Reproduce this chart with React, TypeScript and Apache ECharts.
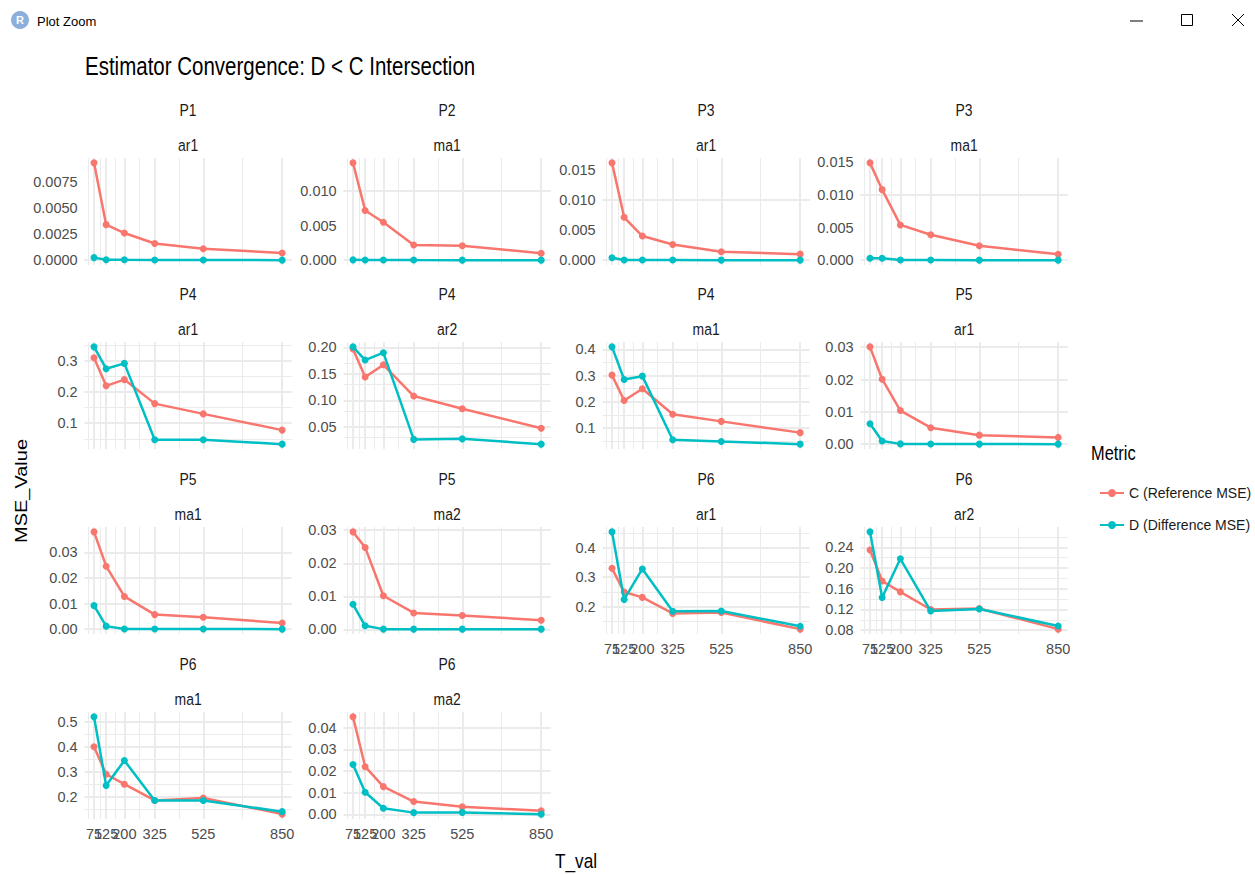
import React, { useEffect, useRef } from "react";
import * as echarts from "echarts";

// ---------- data ----------
const T_VALS = [75, 125, 200, 325, 525, 850];
const X_TICK_LABELS = ["75", "125", "200", "325", "525", "850"];

const PANEL_GROUPS = ["P1", "P2", "P3", "P3", "P4", "P4", "P4", "P5", "P5", "P5", "P6", "P6", "P6", "P6"];
const PANEL_PARAMS = ["ar1", "ma1", "ar1", "ma1", "ar1", "ar2", "ma1", "ar1", "ma1", "ma2", "ar1", "ar2", "ma1", "ma2"];

const SERIES_NAMES = ["C (Reference MSE)", "D (Difference MSE)"];

// C (Reference MSE)
const C_P1_AR1 = [0.0093, 0.0034, 0.0026, 0.0016, 0.0011, 0.0007];
const C_P2_MA1 = [0.0141, 0.0072, 0.0055, 0.0022, 0.0021, 0.001];
const C_P3_AR1 = [0.0161, 0.0071, 0.004, 0.0026, 0.0014, 0.001];
const C_P3_MA1 = [0.0149, 0.0108, 0.0054, 0.0039, 0.0022, 0.0009];
const C_P4_AR1 = [0.31, 0.22, 0.24, 0.163, 0.13, 0.078];
const C_P4_AR2 = [0.197, 0.144, 0.167, 0.108, 0.084, 0.047];
const C_P4_MA1 = [0.302, 0.205, 0.25, 0.152, 0.125, 0.082];
const C_P5_AR1 = [0.0301, 0.0201, 0.0104, 0.0051, 0.0028, 0.0021];
const C_P5_MA1 = [0.038, 0.0246, 0.0128, 0.0057, 0.0047, 0.0024];
const C_P5_MA2 = [0.0295, 0.0248, 0.0102, 0.005, 0.0042, 0.0028];
const C_P6_AR1 = [0.33, 0.25, 0.232, 0.178, 0.181, 0.125];
const C_P6_AR2 = [0.235, 0.175, 0.154, 0.12, 0.122, 0.082];
const C_P6_MA1 = [0.4, 0.29, 0.25, 0.185, 0.195, 0.13];
const C_P6_MA2 = [0.045, 0.022, 0.0128, 0.0059, 0.0035, 0.0017];

// D (Difference MSE)
const D_P1_AR1 = [0.00025, 0.00005, 0.00004, 0.00003, 0.00002, 0.00001];
const D_P2_MA1 = [0.00005, 0.00004, 0.00003, 0.00002, 0.00001, 0.00001];
const D_P3_AR1 = [0.0004, 0.00003, 0.00002, 0.00002, 0.00001, 0.00001];
const D_P3_MA1 = [0.0003, 0.0003, 0.00002, 0.00002, 0.00001, 0.00001];
const D_P4_AR1 = [0.345, 0.275, 0.292, 0.047, 0.047, 0.033];
const D_P4_AR2 = [0.201, 0.176, 0.19, 0.026, 0.027, 0.017];
const D_P4_MA1 = [0.41, 0.285, 0.298, 0.055, 0.048, 0.038];
const D_P5_AR1 = [0.0063, 0.001, 0.0001, 0.00005, 0.00003, 0.00002];
const D_P5_MA1 = [0.0092, 0.0012, 0.0001, 0.0001, 0.00005, 0.00003];
const D_P5_MA2 = [0.0076, 0.0011, 0.0001, 0.0001, 0.0001, 0.0001];
const D_P6_AR1 = [0.453, 0.225, 0.328, 0.185, 0.186, 0.135];
const D_P6_AR2 = [0.27, 0.143, 0.218, 0.117, 0.121, 0.088];
const D_P6_MA1 = [0.52, 0.245, 0.345, 0.185, 0.185, 0.14];
const D_P6_MA2 = [0.023, 0.0102, 0.0028, 0.0008, 0.0009, 0.0001];

// y tick labels per panel
const Y_P1_AR1 = ["0.0000", "0.0025", "0.0050", "0.0075"];
const Y_P2_MA1 = ["0.000", "0.005", "0.010"];
const Y_P3_AR1 = ["0.000", "0.005", "0.010", "0.015"];
const Y_P3_MA1 = ["0.000", "0.005", "0.010", "0.015"];
const Y_P4_AR1 = ["0.1", "0.2", "0.3"];
const Y_P4_AR2 = ["0.05", "0.10", "0.15", "0.20"];
const Y_P4_MA1 = ["0.1", "0.2", "0.3", "0.4"];
const Y_P5_AR1 = ["0.00", "0.01", "0.02", "0.03"];
const Y_P5_MA1 = ["0.00", "0.01", "0.02", "0.03"];
const Y_P5_MA2 = ["0.00", "0.01", "0.02", "0.03"];
const Y_P6_AR1 = ["0.2", "0.3", "0.4"];
const Y_P6_AR2 = ["0.08", "0.12", "0.16", "0.20", "0.24"];
const Y_P6_MA1 = ["0.2", "0.3", "0.4", "0.5"];
const Y_P6_MA2 = ["0.00", "0.01", "0.02", "0.03", "0.04"];

const C_VALUES = [C_P1_AR1, C_P2_MA1, C_P3_AR1, C_P3_MA1, C_P4_AR1, C_P4_AR2, C_P4_MA1, C_P5_AR1, C_P5_MA1, C_P5_MA2, C_P6_AR1, C_P6_AR2, C_P6_MA1, C_P6_MA2];
const D_VALUES = [D_P1_AR1, D_P2_MA1, D_P3_AR1, D_P3_MA1, D_P4_AR1, D_P4_AR2, D_P4_MA1, D_P5_AR1, D_P5_MA1, D_P5_MA2, D_P6_AR1, D_P6_AR2, D_P6_MA1, D_P6_MA2];
const Y_TICKS = [Y_P1_AR1, Y_P2_MA1, Y_P3_AR1, Y_P3_MA1, Y_P4_AR1, Y_P4_AR2, Y_P4_MA1, Y_P5_AR1, Y_P5_MA1, Y_P5_MA2, Y_P6_AR1, Y_P6_AR2, Y_P6_MA1, Y_P6_MA2];

// ---------- layout ----------
const COL_LEFT = [84.6, 343.6, 602.6, 860.6];
const ROW_TOP = [158, 342, 527, 712];
const PANEL_W = 207;
const PANEL_H = 107;
const NCOL = 4;

const COLOR_C = "#F8766D";
const COLOR_D = "#00BFC4";
const GRID_COLOR = "#EBEBEB";
const FONT = "'Liberation Sans', Arial, sans-serif";
const SQUEEZE = 0.82; // reference text is horizontally condensed
const TICK_FONT = 14.5;

function minorBreaks(breaks: number[], lo: number, hi: number): number[] {
  let b = breaks.slice();
  if (b.length < 2) return [];
  const d0 = b[1] - b[0];
  const d1 = b[b.length - 1] - b[b.length - 2];
  if (lo < b[0]) b = [b[0] - d0, ...b];
  if (hi > b[b.length - 1]) b = [...b, b[b.length - 1] + d1];
  const out: number[] = [];
  for (let i = 1; i < b.length; i++) {
    const m = (b[i] + b[i - 1]) / 2;
    if (m >= lo && m <= hi) out.push(m);
  }
  return out;
}

function squeezedText(x: number, y: number, text: string, size: number, align: string, fill: string) {
  return {
    type: "text",
    x,
    y,
    scaleX: SQUEEZE,
    style: { text, fill, font: `${size}px ${FONT}`, align, verticalAlign: "middle" },
  };
}

function buildOption() {
  const xMinData = Math.min(...T_VALS);
  const xMaxData = Math.max(...T_VALS);
  const xPad = (xMaxData - xMinData) * 0.05;
  const xLo = xMinData - xPad;
  const xHi = xMaxData + xPad;
  const xMinor = minorBreaks(T_VALS, xLo, xHi);
  // split tick labels over two axes so ECharts' first/last-label overlap check keeps them all
  const xSetA = T_VALS.filter((_, k) => k % 2 === 0);
  const xSetB = T_VALS.filter((_, k) => k % 2 === 1);
  const xFmt = (v: number) => {
    const k = T_VALS.indexOf(v);
    return k >= 0 ? X_TICK_LABELS[k] : "";
  };

  const grids: any[] = [];
  const xAxes: any[] = [];
  const extraX: any[] = [];
  const yAxes: any[] = [];
  const series: any[] = [];
  const graphics: any[] = [];

  const n = C_VALUES.length;
  const lastRowOfCol: number[] = [];
  for (let i = 0; i < n; i++) lastRowOfCol[i % NCOL] = Math.floor(i / NCOL);

  const xLabelStyle = {
    color: "#4D4D4D",
    fontSize: TICK_FONT,
    fontFamily: FONT,
    margin: 7,
    hideOverlap: false,
    formatter: xFmt,
  };

  for (let i = 0; i < n; i++) {
    const c = i % NCOL;
    const r = Math.floor(i / NCOL);
    const all = [...C_VALUES[i], ...D_VALUES[i]];
    const yMinD = Math.min(...all);
    const yMaxD = Math.max(...all);
    const yPad = (yMaxD - yMinD) * 0.05;
    const yLo = yMinD - yPad;
    const yHi = yMaxD + yPad;
    const yBreaks = Y_TICKS[i].map((s) => parseFloat(s));
    const yMinor = minorBreaks(yBreaks, yLo, yHi);

    grids.push({ left: COL_LEFT[c], top: ROW_TOP[r], width: PANEL_W, height: PANEL_H, containLabel: false });

    const showX = lastRowOfCol[c] === r;
    const baseX = {
      type: "value",
      gridIndex: i,
      min: xLo,
      max: xHi,
      position: "bottom",
      axisLine: { show: false },
      axisTick: { show: false },
      splitLine: { show: false },
    };
    xAxes.push({ ...baseX, axisLabel: { ...xLabelStyle, show: showX, customValues: xSetA } });
    if (showX) extraX.push({ ...baseX, axisLabel: { ...xLabelStyle, show: true, customValues: xSetB } });

    const labels = Y_TICKS[i];
    yAxes.push({
      type: "value",
      gridIndex: i,
      min: yLo,
      max: yHi,
      axisLine: { show: false },
      axisTick: { show: false },
      splitLine: { show: false },
      axisLabel: {
        customValues: yBreaks,
        formatter: (v: number) => {
          let best = 0;
          for (let k = 1; k < yBreaks.length; k++) {
            if (Math.abs(yBreaks[k] - v) < Math.abs(yBreaks[best] - v)) best = k;
          }
          return labels[best];
        },
        color: "#4D4D4D",
        fontSize: TICK_FONT,
        fontFamily: FONT,
        margin: 7,
      },
    });

    const gridLineData: any[] = [];
    yMinor.forEach((v) => gridLineData.push({ yAxis: v, lineStyle: { color: GRID_COLOR, width: 1, type: "solid" } }));
    xMinor.forEach((v) => gridLineData.push({ xAxis: v, lineStyle: { color: GRID_COLOR, width: 1, type: "solid" } }));
    yBreaks.forEach((v) => gridLineData.push({ yAxis: v, lineStyle: { color: GRID_COLOR, width: 2, type: "solid" } }));
    T_VALS.forEach((v) => gridLineData.push({ xAxis: v, lineStyle: { color: GRID_COLOR, width: 2, type: "solid" } }));

    series.push({
      type: "line",
      name: "grid" + i,
      xAxisIndex: i,
      yAxisIndex: i,
      data: T_VALS.map((t, j) => [t, C_VALUES[i][j]]),
      showSymbol: false,
      lineStyle: { opacity: 0 },
      silent: true,
      z: 0,
      markLine: {
        z: 0,
        silent: true,
        symbol: ["none", "none"],
        label: { show: false },
        emphasis: { disabled: true },
        data: gridLineData,
      },
    });

    const mk = (name: string, vals: number[], color: string, z: number) => ({
      type: "line",
      name,
      xAxisIndex: i,
      yAxisIndex: i,
      data: T_VALS.map((t, j) => [t, vals[j]]),
      symbol: "circle",
      symbolSize: 7,
      showSymbol: true,
      color,
      lineStyle: { color, width: 2.5 },
      itemStyle: { color, borderWidth: 0, opacity: 1 },
      emphasis: { disabled: true },
      z,
    });
    series.push(mk(SERIES_NAMES[0], C_VALUES[i], COLOR_C, 3));
    series.push(mk(SERIES_NAMES[1], D_VALUES[i], COLOR_D, 4));

    const cx = COL_LEFT[c] + PANEL_W / 2;
    graphics.push(squeezedText(cx, ROW_TOP[r] - 48, PANEL_GROUPS[i], 17, "center", "#1A1A1A"));
    graphics.push(squeezedText(cx, ROW_TOP[r] - 13, PANEL_PARAMS[i], 17, "center", "#1A1A1A"));
  }

  // titles and labels
  graphics.push(squeezedText(85, 66, "Estimator Convergence: D < C Intersection", 25, "left", "#000"));
  graphics.push({
    type: "text",
    x: 21,
    y: 491,
    rotation: Math.PI / 2,
    scaleY: SQUEEZE,
    style: { text: "MSE_Value", fill: "#000", font: `20px ${FONT}`, align: "center", verticalAlign: "middle" },
  });
  graphics.push(squeezedText(576, 861, "T_val", 21, "center", "#000"));
  graphics.push(squeezedText(1091, 453, "Metric", 20, "left", "#000"));

  // window bar
  graphics.push({ type: "circle", shape: { cx: 20, cy: 20, r: 9 }, style: { fill: "#8CB0DC" } });
  graphics.push({
    type: "text",
    x: 20,
    y: 20,
    style: { text: "R", fill: "#fff", font: `bold 11px ${FONT}`, align: "center", verticalAlign: "middle" },
  });
  graphics.push({
    type: "text",
    x: 37,
    y: 21,
    style: { text: "Plot Zoom", fill: "#000", font: `13px ${FONT}`, align: "left", verticalAlign: "middle" },
  });
  graphics.push({ type: "line", shape: { x1: 1130, y1: 21, x2: 1143, y2: 21 }, style: { stroke: "#000", lineWidth: 1 } });
  graphics.push({ type: "rect", shape: { x: 1181.5, y: 14.5, width: 11, height: 11 }, style: { stroke: "#000", fill: "none", lineWidth: 1 } });
  graphics.push({ type: "line", shape: { x1: 1232, y1: 14, x2: 1244, y2: 26 }, style: { stroke: "#000", lineWidth: 1 } });
  graphics.push({ type: "line", shape: { x1: 1244, y1: 14, x2: 1232, y2: 26 }, style: { stroke: "#000", lineWidth: 1 } });

  return {
    animation: false,
    backgroundColor: "#FFFFFF",
    textStyle: { fontFamily: FONT },
    grid: grids,
    xAxis: [...xAxes, ...extraX],
    yAxis: yAxes,
    series,
    legend: {
      data: SERIES_NAMES,
      orient: "vertical",
      left: 1094,
      top: 481,
      itemGap: 18,
      itemWidth: 24,
      itemHeight: 10,
      textStyle: { color: "#1A1A1A", fontSize: 14, fontFamily: FONT },
      selectedMode: false,
    },
    graphic: graphics,
  };
}

export default function App() {
  const ref = useRef<HTMLDivElement>(null);
  useEffect(() => {
    if (!ref.current) return;
    const chart = echarts.init(ref.current, undefined, { renderer: "svg" });
    chart.setOption(buildOption() as any);
    return () => chart.dispose();
  }, []);
  return <div ref={ref} style={{ position: "fixed", left: 0, top: 0, width: 1255, height: 875, background: "#fff" }} />;
}
